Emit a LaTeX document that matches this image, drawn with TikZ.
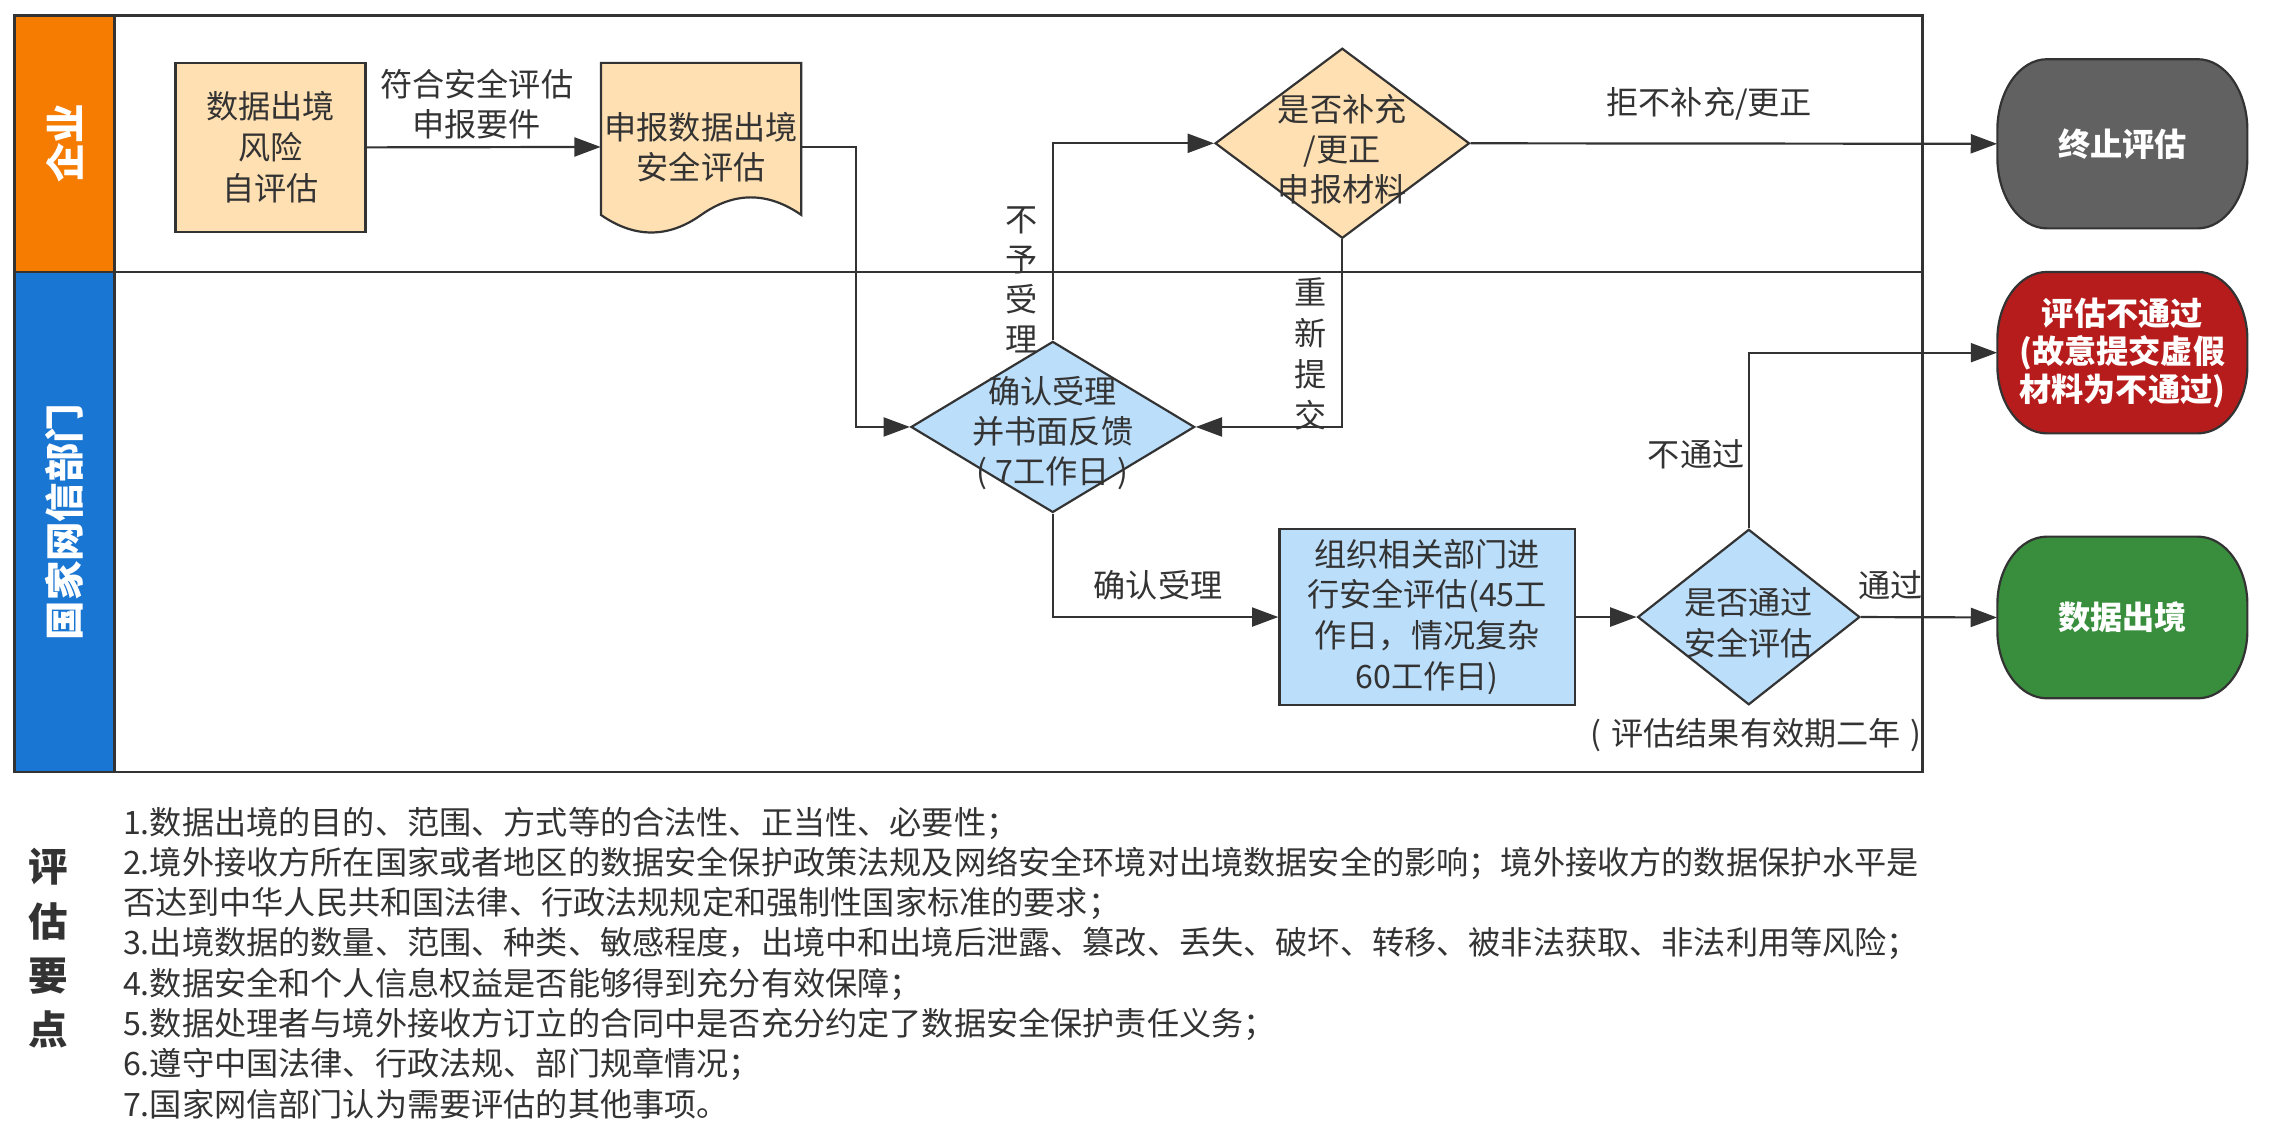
\documentclass[tikz,border=0pt]{standalone}
\usepackage{fontspec}
\setmainfont{Noto Sans CJK SC}
\usetikzlibrary{shapes.geometric,arrows.meta}
\definecolor{linec}{HTML}{333333}
\definecolor{txtc}{HTML}{333333}
\definecolor{orangeh}{HTML}{F57C00}
\definecolor{blueh}{HTML}{1976D2}
\definecolor{peach}{HTML}{FFE0B2}
\definecolor{lblue}{HTML}{BBDEFB}
\definecolor{greyt}{HTML}{616161}
\definecolor{redt}{HTML}{B71C1C}
\definecolor{greent}{HTML}{388E3C}
\newcommand\myfs[2]{\fontsize{#1}{#2}\selectfont}
\newcommand\myterm[5]{%
 \pgfmathsetmacro\termry{0.42*(#4-#2)}%
 \pgfmathsetmacro\termrx{34}%
 \pgfmathsetmacro\termk{0.552}%
 \path[fill=#5, draw=linec, line width=1.5pt]
 ({#1+\termrx},#2) -- ({#3-\termrx},#2)
 .. controls ({#3-\termrx+\termk*\termrx},#2) and (#3,{#2+\termry-\termk*\termry}) .. (#3,{#2+\termry})
 -- (#3,{#4-\termry})
 .. controls (#3,{#4-\termry+\termk*\termry}) and ({#3-\termrx+\termk*\termrx},#4) .. ({#3-\termrx},#4)
 -- ({#1+\termrx},#4)
 .. controls ({#1+\termrx-\termk*\termrx},#4) and (#1,{#4-\termry+\termk*\termry}) .. (#1,{#4-\termry})
 -- (#1,{#2+\termry})
 .. controls (#1,{#2+\termry-\termk*\termry}) and ({#1+\termrx-\termk*\termrx},#2) .. ({#1+\termrx},#2) -- cycle;}
\tikzset{
 txt/.style={font=\myfs{22}{27.5}, text=txtc, align=center, inner sep=0pt},
 listtxt/.style={font=\myfs{22}{27.5}, text=txtc, inner sep=0pt, anchor=west},
 conn/.style={draw=linec, line width=1.5pt, -{Triangle[length=18pt,width=13pt]}},
 lane/.style={draw=linec, line width=2pt},
 dia/.style={diamond, draw=linec, line width=1.5pt, inner sep=0pt},
 boxn/.style={rectangle, draw=linec, line width=1.5pt, inner sep=0pt, font=\myfs{22}{28}, text=txtc, align=center},
 termtxt/.style={rectangle, inner sep=0pt, text=white, font=\bfseries\myfs{22}{26}, align=center},
 headtxt/.style={rotate=90, text=white, font=\bfseries\myfs{27}{30}, inner sep=0pt},
}
\begin{document}
\begin{tikzpicture}[x=1pt,y=-1pt]
\useasboundingbox (0,0) rectangle (1560,767.35);
\fill[white] (0,0) rectangle (1560,767.35);
% lanes
\fill[orangeh] (10,10.3) rectangle (78.5,186);
\fill[blueh] (10,186) rectangle (78.5,528);
\draw[lane] (10,10.3) rectangle (1315,528);
\draw[lane] (78.5,10.3) -- (78.5,528);
\draw[lane] (10,186) -- (1315,186);
\node[headtxt] (h1) at (44,98) {企业};
\node[headtxt] (h2) at (44,357) {国家网信部门};
% nodes
\node[boxn, fill=peach, minimum width=130pt, minimum height=115.5pt] (b1) at (185,100.8) {数据出境\\风险\\自评估};
\path[fill=peach, draw=linec, line width=1.5pt] (411,43) -- (548,43) -- (548,147)
 .. controls (525,131) and (502,131) .. (479.5,147)
 .. controls (457,163) and (434,163) .. (411,147) -- cycle;
\node[txt, minimum width=137pt, minimum height=115pt] (doc) at (479.5,100.5) {申报数据出境\\安全评估};
\node[dia, fill=peach, minimum width=174pt, minimum height=130pt,
 label={[txt, yshift=-4pt]center:{是否补充\\/更正\\申报材料}}] (d1) at (918,98) {};
\node[dia, fill=lblue, minimum width=194pt, minimum height=117pt,
 label={[txt, yshift=-4pt]center:{确认受理\\并书面反馈\\(\hspace{0.25em}7工作日\hspace{0.25em})}}] (dq) at (720,292) {};
\node[boxn, fill=lblue, minimum width=202pt, minimum height=120pt] (proc) at (976,422) {组织相关部门进\\行安全评估(45工\\作日，情况复杂\\60工作日)};
\node[dia, fill=lblue, minimum width=152pt, minimum height=120pt,
 label={[txt, yshift=-4pt]center:{是否通过\\安全评估}}] (d3) at (1196,422) {};
% terminals
\myterm{1366}{40.5}{1537}{156.2}{greyt}
\node[termtxt, minimum width=171pt, minimum height=115.7pt] (tgrey) at (1451.5,98.35) {终止评估};
\myterm{1366}{186}{1537}{296.4}{redt}
\node[termtxt, minimum width=171pt, minimum height=110.4pt] (tred) at (1451.5,241.2) {评估不通过\\(故意提交虚假\\材料为不通过)};
\myterm{1366}{367}{1537}{477.6}{greent}
\node[termtxt, minimum width=171pt, minimum height=110.6pt] (tgreen) at (1451.5,422.3) {数据出境};
% connectors
\draw[conn] (b1.east) -- (doc.west);
\draw[conn] (doc.east) -- ++(37,0) |- (dq.west);
\draw[conn] (dq.north) |- (d1.west);
\draw[conn] (d1.south) |- (dq.east);
\draw[conn] (d1.east) -- (tgrey.west);
\draw[conn] (dq.south) |- (proc.west);
\draw[conn] (proc.east) -- (d3.west);
\draw[conn] (d3.north) |- (tred.west);
\draw[conn] (d3.east) -- (tgreen.west);
% labels
\node[txt] (lab1) at (326,71) {符合安全评估\\申报要件};
\node[txt] (lab2) at (1169,71) {拒不补充/更正};
\node[txt] (lab3) at (699,191.5) {不\\予\\受\\理};
\node[txt, font=\myfs{22}{28}] (lab4) at (896,242) {重\\新\\提\\交};
\node[txt] (lab5) at (792,400) {确认受理};
\node[txt] (lab6) at (1160,311) {不通过};
\node[txt] (lab7) at (1293,400) {通过};
\node[txt] (lab8) at (1201,503) {(\hspace{0.3em}评估结果有效期二年\hspace{0.3em})};
% evaluation points
\node[txt, font=\bfseries\myfs{27}{37}] (ptitle) at (33,648.5) {评\\估\\要\\点};
\node[listtxt] (l1) at (84,563) {1.数据出境的目的、范围、方式等的合法性、正当性、必要性；};
\node[listtxt] (l2) at (84,590.5) {2.境外接收方所在国家或者地区的数据安全保护政策法规及网络安全环境对出境数据安全的影响；境外接收方的数据保护水平是};
\node[listtxt] (l3) at (84,618) {否达到中华人民共和国法律、行政法规规定和强制性国家标准的要求；};
\node[listtxt] (l4) at (84,645.5) {3.出境数据的数量、范围、种类、敏感程度，出境中和出境后泄露、篡改、丢失、破坏、转移、被非法获取、非法利用等风险；};
\node[listtxt] (l5) at (84,673) {4.数据安全和个人信息权益是否能够得到充分有效保障；};
\node[listtxt] (l6) at (84,700.5) {5.数据处理者与境外接收方订立的合同中是否充分约定了数据安全保护责任义务；};
\node[listtxt] (l7) at (84,728) {6.遵守中国法律、行政法规、部门规章情况；};
\node[listtxt] (l8) at (84,755.5) {7.国家网信部门认为需要评估的其他事项。};
\end{tikzpicture}
\end{document}
